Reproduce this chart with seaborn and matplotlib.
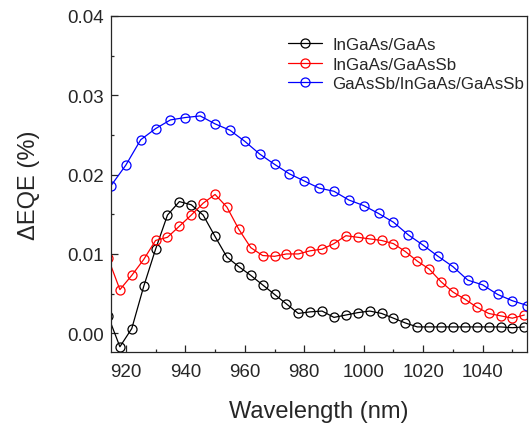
import matplotlib
matplotlib.use('Agg')
import matplotlib.pyplot as plt
import seaborn as sns
import pandas as pd
from matplotlib.ticker import MultipleLocator

# Wavelength grids (nm) and dEQE values (%)
wl_4nm = list(range(914, 1055, 4))
wl_5nm = list(range(915, 1056, 5))

ingaas_gaas = [0.0022, -0.0017, 0.0006, 0.0059, 0.0106, 0.0149, 0.0166, 0.0162,
               0.0149, 0.0122, 0.0096, 0.0084, 0.0073, 0.0061, 0.0049, 0.0037,
               0.0025, 0.0027, 0.0028, 0.0020, 0.0023, 0.0026, 0.0028, 0.0025,
               0.0019, 0.0013, 0.0008, 0.0008, 0.0008, 0.0008, 0.0008, 0.0008,
               0.0008, 0.0008, 0.0007, 0.0008]
ingaas_gaassb = [0.0095, 0.0055, 0.0073, 0.0093, 0.0117, 0.0121, 0.0135, 0.0149,
                 0.0164, 0.0175, 0.0159, 0.0131, 0.0108, 0.0098, 0.0097, 0.0100,
                 0.0100, 0.0104, 0.0106, 0.0113, 0.0123, 0.0121, 0.0119, 0.0117,
                 0.0113, 0.0103, 0.0091, 0.0081, 0.0065, 0.0052, 0.0043, 0.0033,
                 0.0025, 0.0022, 0.0019, 0.0023]
gaassb_ingaas_gaassb = [0.0186, 0.0212, 0.0244, 0.0258, 0.0269, 0.0272, 0.0274, 0.0264,
                        0.0256, 0.0242, 0.0226, 0.0213, 0.0201, 0.0192, 0.0183, 0.0179,
                        0.0168, 0.0161, 0.0151, 0.0140, 0.0124, 0.0111, 0.0097, 0.0084,
                        0.0067, 0.0061, 0.0049, 0.0041, 0.0035]

series = [
    ('InGaAs/GaAs', wl_4nm, ingaas_gaas, 'black'),
    ('InGaAs/GaAsSb', wl_4nm, ingaas_gaassb, 'red'),
    ('GaAsSb/InGaAs/GaAsSb', wl_5nm, gaassb_ingaas_gaassb, 'blue'),
]

sns.set_style('ticks')
plt.rcParams['font.family'] = ['Liberation Sans', 'DejaVu Sans']

fig = plt.figure(figsize=(5.32, 4.27), dpi=100)
ax = fig.add_axes([0.2086, 0.1726, 0.7825, 0.7876])

for name, x, y, c in series:
    df = pd.DataFrame({'wl': x, 'deqe': y})
    sns.lineplot(data=df, x='wl', y='deqe', ax=ax, color=c, label=name,
                 estimator=None, sort=False, linewidth=0.9,
                 marker='o', markersize=6.5, mfc='none', mec=c, mew=0.9)

ax.set_xlim(915, 1055)
ax.set_ylim(-0.0024, 0.04)
ax.xaxis.set_major_locator(MultipleLocator(20))
ax.xaxis.set_minor_locator(MultipleLocator(10))
ax.yaxis.set_major_locator(MultipleLocator(0.01))
ax.yaxis.set_minor_locator(MultipleLocator(0.005))
ax.yaxis.set_major_formatter(matplotlib.ticker.FormatStrFormatter('%.2f'))
ax.tick_params(which='major', direction='in', length=4.7, width=0.9,
               labelsize=13.5, pad=5, top=False, right=False)
ax.tick_params(axis='x', which='major', pad=8)
ax.tick_params(which='minor', direction='in', length=2.5, width=0.9,
               top=False, right=False)
for s in ax.spines.values():
    s.set_linewidth(0.9)

ax.set_xlabel('Wavelength (nm)', fontsize=17, labelpad=14)
ax.set_ylabel('ΔEQE (%)', fontsize=17, labelpad=20)

ax.legend(loc='upper left', bbox_to_anchor=(0.41, 0.958), frameon=False,
          fontsize=12.2, handlelength=2.0, handletextpad=0.6, labelspacing=0.28,
          borderaxespad=0)

fig.savefig('out.png', dpi=100)
